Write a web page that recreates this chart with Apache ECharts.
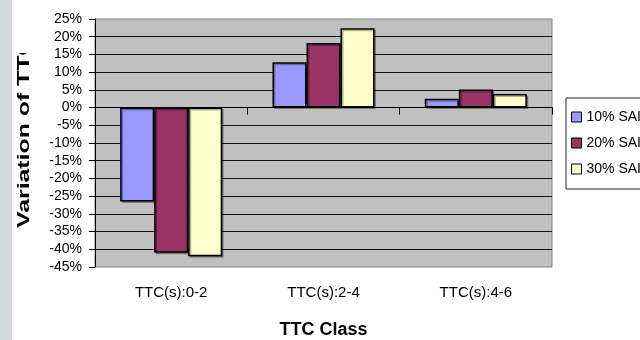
<!DOCTYPE html>
<html>
<head>
<meta charset="utf-8">
<script src="https://cdn.jsdelivr.net/npm/echarts@6/dist/echarts.min.js"></script>
<style>
  html, body { margin: 0; padding: 0; background: #fff; }
  #chart { width: 640px; height: 340px; }
</style>
</head>
<body>
<div id="chart"></div>
<script>
// TTC classes on the category axis
const categories = ['TTC(s):0-2', 'TTC(s):2-4', 'TTC(s):4-6'];
// Variation of TTC (%) per SAI level
const seriesNames = ['10% SAI', '20% SAI', '30% SAI'];
const sai10 = [-26.5, 12.8, 2.5];
const sai20 = [-41.0, 18.2, 5.1];
const sai30 = [-42.0, 22.4, 3.8];
// Value axis range and step (percent)
const yMin = -45;
const yMax = 25;
const yStep = 5;

const FONT = '"Liberation Sans", Arial, sans-serif';
const colors = ['#9999FF', '#993366', '#FFFFCC'];

const barStyle = (c) => ({
  color: c,
  borderColor: '#000',
  borderWidth: 1.5,
  shadowColor: 'rgba(0,0,0,0.3)',
  shadowOffsetX: 1.5,
  shadowOffsetY: 1.5,
  shadowBlur: 0
});

const chart = echarts.init(document.getElementById('chart'), null, { renderer: 'canvas' });

chart.setOption({
  backgroundColor: '#ffffff',
  animation: false,
  grid: {
    left: 95, top: 19, width: 457, height: 248,
    outerBoundsMode: 'none',
    containLabel: false,
    show: true,
    backgroundColor: '#C0C0C0',
    borderColor: '#808080',
    borderWidth: 1
  },
  legend: {
    orient: 'vertical',
    left: 566,
    top: 98,
    padding: [11, 80, 12, 5],
    itemGap: 10,
    itemWidth: 10,
    itemHeight: 10,
    icon: 'rect',
    selectedMode: false,
    backgroundColor: '#ffffff',
    borderColor: '#222',
    borderWidth: 1,
    itemStyle: { borderColor: '#000', borderWidth: 1, shadowOffsetX: 0, shadowOffsetY: 0 },
    textStyle: { fontFamily: FONT, fontSize: 14, color: '#000', lineHeight: 16 },
    data: seriesNames
  },
  xAxis: [
    {
      type: 'category',
      data: categories,
      position: 'bottom',
      axisLine: { show: false, onZero: false },
      axisTick: { show: false },
      axisLabel: { fontFamily: FONT, fontSize: 15, color: '#000', margin: 18 },
      name: 'TTC Class',
      nameLocation: 'middle',
      nameGap: 54,
      nameTextStyle: { fontFamily: FONT, fontSize: 18, fontWeight: 'bold', color: '#000' }
    },
    {
      // category axis line drawn along the zero value, with its tick marks
      type: 'category',
      data: categories,
      position: 'bottom',
      axisLine: { show: true, onZero: true, lineStyle: { color: '#000', width: 1 } },
      axisTick: { show: true, length: 7, lineStyle: { color: '#000' } },
      axisLabel: { show: false },
      splitLine: { show: false }
    }
  ],
  yAxis: {
    type: 'value',
    min: yMin,
    max: yMax,
    interval: yStep,
    axisLine: { show: true, lineStyle: { color: '#000', width: 1 } },
    axisTick: { show: true, length: 6, lineStyle: { color: '#000' } },
    axisLabel: {
      fontFamily: FONT, fontSize: 14, color: '#000', margin: 13,
      formatter: '{value}%'
    },
    splitLine: {
      show: true,
      showMinLine: false,
      showMaxLine: false,
      lineStyle: { color: '#111', width: 1 }
    }
  },
  series: [
    { name: seriesNames[0], type: 'bar', xAxisIndex: 0, data: sai10, barGap: '0%', barCategoryGap: '33%', itemStyle: barStyle(colors[0]) },
    { name: seriesNames[1], type: 'bar', xAxisIndex: 0, data: sai20, barGap: '0%', barCategoryGap: '33%', itemStyle: barStyle(colors[1]) },
    { name: seriesNames[2], type: 'bar', xAxisIndex: 0, data: sai30, barGap: '0%', barCategoryGap: '33%', itemStyle: barStyle(colors[2]) }
  ],
  graphic: [
    {
      // page margin strip on the left
      type: 'rect',
      shape: { x: 0, y: 0, width: 12, height: 340 },
      style: { fill: '#D5DADC' },
      z: 0
    },
    {
      // vertical axis title
      type: 'text',
      x: 24.5,
      y: 228,
      rotation: Math.PI / 2,
      scaleX: 1.46,
      scaleY: 1,
      style: {
        text: 'Variation of TTC',
        font: 'bold 17px ' + FONT,
        fill: '#000',
        textAlign: 'left',
        textVerticalAlign: 'middle'
      },
      z: 10
    },
    {
      // title area is cut off above the plot
      type: 'rect',
      shape: { x: 13, y: 0, width: 32, height: 53 },
      style: { fill: '#ffffff' },
      z: 11
    }
  ]
});
</script>
</body>
</html>
